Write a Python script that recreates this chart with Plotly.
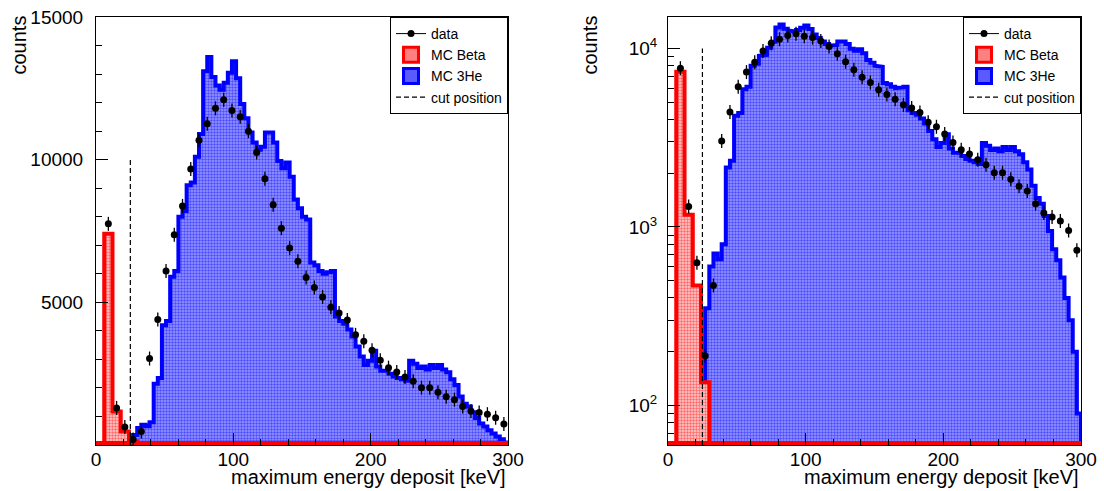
import numpy as np
import plotly.graph_objects as go

# bins: data and MC Beta use 6 keV bins, MC 3He uses 3 keV bins (0-300 keV)
edges6 = np.arange(0, 301, 6)
edges3 = np.arange(0, 301, 3)
centers6 = (edges6[:-1] + edges6[1:]) / 2

data_counts = [None, 7750, 1300, 630, 190, 470, 3030, 4400, 6100, 7370,
               8380, 9670, 10680, 11260, 11800, 12100, 11720, 11500, 11000, 10250,
               9330, 8420, 7600, 6900, 6440, 5870, 5520, 5190, 4830, 4630,
               4380, 3860, 3640, 3320, 2970, 2710, 2560, 2380, 2230, 2010,
               2010, 1850, 1690, 1590, 1350, 1195, 1135, 1080, 955, 740]

mc_beta = [0, 7400, 1170, 470, 135] + [0] * 45

mc_he3 = ([0] * 9
          + [350, 600, 710, 660, 800]
          + [2150, 2350, 4200, 4350, 5900, 6100, 8000, 8200, 9100, 9200, 10100, 10900]
          + [13100, 13600, 12900, 12600, 12450, 12700, 13050, 13450, 12850]
          + [11950, 11450, 10950, 10600, 10350, 10450, 10950, 10950, 10600, 9950,
             9700, 9900, 9400, 8600, 8300, 8000]
          + [7900, 6400, 6300, 6100, 6000, 6050, 6100]
          + [4500, 4350, 4250, 4050, 3800, 3450, 3100, 2800, 2950]
          + [3300, 2750, 2600, 2600, 2500, 2400, 2350, 2300, 2250]
          + [2950, 2850, 2700, 2750, 2650, 2800, 2700, 2800, 2650, 2550]
          + [2300, 2100, 1700, 1450, 1350, 1150, 950, 750, 650, 520, 400, 300, 200, 90])

cut_position = 25
cut_top = 10000

FONT = "Liberation Sans, Arial, sans-serif"
W, H = 1104, 491


def px(x):
    return x / W


def py(y):
    return 1 - y / H


def hist_path(edges, vals, base):
    xs, ys = [edges[0]], [base]
    for k, v in enumerate(vals):
        v = max(v, base)
        xs += [edges[k], edges[k + 1]]
        ys += [v, v]
    xs += [edges[-1], edges[0]]
    ys += [base, base]
    return xs, ys


fig = go.Figure()

# (x axis, y axis, legend, drawn baseline ~2px above the frame, cut line bottom)
panels = [("x", "y", "legend", 70, 0), ("x2", "y2", "legend2", 61.5, 60)]
for xa, ya, leg, base, cut_bottom in panels:
    bx, by = hist_path(edges3, mc_he3, base)
    fig.add_trace(go.Scatter(
        x=bx, y=by, xaxis=xa, yaxis=ya, mode="lines", fill="toself",
        line=dict(color="#0000ff", width=4), fillcolor="rgba(0,0,0,0)",
        fillpattern=dict(shape=".", fgcolor="#0000ff", bgcolor="#9a9aff", size=3, solidity=0.5),
        showlegend=False, hoverinfo="skip"))
    rx, ry = hist_path(edges6, mc_beta, base)
    fig.add_trace(go.Scatter(
        x=rx, y=ry, xaxis=xa, yaxis=ya, mode="lines", fill="toself",
        line=dict(color="#ff0000", width=4), fillcolor="rgba(0,0,0,0)",
        fillpattern=dict(shape=".", fgcolor="#ff0000", bgcolor="#ffd0d0", size=3, solidity=0.5),
        showlegend=False, hoverinfo="skip"))
    fig.add_trace(go.Scatter(
        x=[cut_position, cut_position], y=[cut_bottom, cut_top],
        xaxis=xa, yaxis=ya, mode="lines",
        line=dict(color="black", width=1.2, dash="5px,3px"),
        name="cut position", legend=leg, legendrank=4))
    fig.add_trace(go.Scatter(
        x=centers6, y=data_counts, xaxis=xa, yaxis=ya, mode="markers",
        marker=dict(symbol="line-ns", size=10, line=dict(color="black", width=1.3)),
        showlegend=False, hoverinfo="skip"))
    fig.add_trace(go.Scatter(
        x=centers6, y=data_counts, xaxis=xa, yaxis=ya, mode="markers",
        marker=dict(symbol="circle", size=7, color="black"),
        showlegend=False, name="data"))
    # legend-only entries
    fig.add_trace(go.Scatter(
        x=[None], y=[None], xaxis=xa, yaxis=ya, mode="lines+markers",
        line=dict(color="black", width=1), marker=dict(symbol="circle", size=7, color="black"),
        name="data", legend=leg, legendrank=1))
    fig.add_trace(go.Scatter(
        x=[None], y=[None], xaxis=xa, yaxis=ya, mode="markers",
        marker=dict(symbol="square", size=15, color="#ff8080", line=dict(color="#ff0000", width=3)),
        name="MC Beta", legend=leg, legendrank=2))
    fig.add_trace(go.Scatter(
        x=[None], y=[None], xaxis=xa, yaxis=ya, mode="markers",
        marker=dict(symbol="square", size=15, color="#5a5aff", line=dict(color="#0000ff", width=3)),
        name="MC 3He", legend=leg, legendrank=3))

xl = [px(96), px(508)]
xr = [px(668), px(1081)]
yd = [py(445), py(17)]

axis_common = dict(showline=True, linecolor="black", linewidth=1, mirror=True,
                   showgrid=False, zeroline=False, ticks="inside", tickcolor="black",
                   ticklabeloverflow="allow",
                   tickfont=dict(family=FONT, size=19, color="black"), automargin=False)

xaxis_common = dict(range=[0, 300], tickvals=[0, 100, 200, 300], ticklen=12,
                    ticklabelstandoff=-3,
                    minor=dict(dtick=20, tick0=0, ticks="inside", ticklen=6, tickcolor="black"),
                    **axis_common)

minor_log = [m * 10 ** d for d in (1, 2, 3, 4) for m in range(2, 10)]

legend_style = dict(y=py(17), xanchor="right", yanchor="top",
                    bordercolor="black", borderwidth=1, bgcolor="white",
                    font=dict(family=FONT, size=14, color="black"), itemwidth=30, tracegroupgap=0)

fig.update_layout(
    width=W, height=H, margin=dict(l=0, r=0, t=0, b=0),
    paper_bgcolor="white", plot_bgcolor="white",
    font=dict(family=FONT, color="black"),
    xaxis=dict(domain=xl, anchor="y", **xaxis_common),
    xaxis2=dict(domain=xr, anchor="y2", **xaxis_common),
    yaxis=dict(domain=yd, anchor="x", range=[0, 15000], tickvals=[5000, 10000, 15000],
               tickformat="d", ticklen=12, ticklabelstandoff=8,
               minor=dict(dtick=1000, tick0=0, ticks="inside", ticklen=6, tickcolor="black"),
               **axis_common),
    yaxis2=dict(domain=yd, anchor="x2", type="log", range=[np.log10(60), np.log10(15000)],
                tickvals=[100, 1000, 10000],
                ticktext=["10<sup>2</sup>", "10<sup>3</sup>", "10<sup>4</sup>"],
                ticklen=12, ticklabelstandoff=6,
                minor=dict(tickmode="array", tickvals=minor_log, ticks="inside", ticklen=6,
                           tickcolor="black"),
                **axis_common),
    legend=dict(x=px(508), **legend_style),
    legend2=dict(x=px(1081), **legend_style),
    showlegend=True,
)

for xd, xc in ((xl, 18), (xr, 589)):
    fig.add_annotation(text="maximum energy deposit [keV]", xref="paper", yref="paper",
                       x=xd[1], y=py(477), xanchor="right", yanchor="middle",
                       showarrow=False, font=dict(family=FONT, size=20, color="black"))
    fig.add_annotation(text="counts", xref="paper", yref="paper", textangle=-90,
                       x=px(xc), y=py(14), xanchor="center", yanchor="top",
                       showarrow=False, font=dict(family=FONT, size=20, color="black"))

# the default page has an 8px body margin; drop it so the figure fills the window
fig.write_html("out.html", config={"displayModeBar": False},
               post_script="document.body.style.margin='0px';")
